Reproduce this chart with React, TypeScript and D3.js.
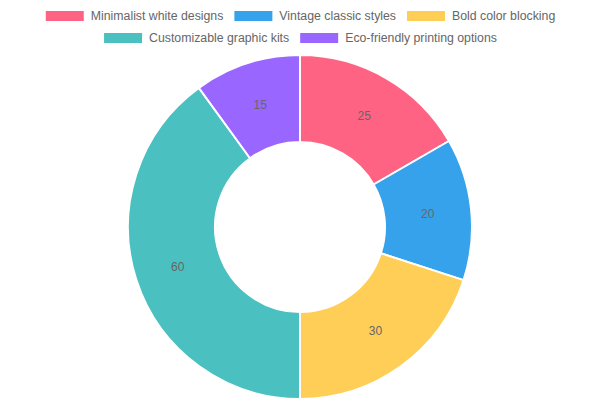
import React, { useEffect, useRef } from 'react';
import * as d3 from 'd3';

const labels = [
  'Minimalist white designs',
  'Vintage classic styles',
  'Bold color blocking',
  'Customizable graphic kits',
  'Eco-friendly printing options',
];
const values = [25, 20, 30, 60, 15];
const colors = ['#FF6384', '#36A2EB', '#FFCE56', '#4BC0C0', '#9966FF'];

const WIDTH = 600;
const HEIGHT = 400;
const FONT = "Arial, 'Liberation Sans', sans-serif";

type Item = { label: string; color: string; width: number; x: number; row: number };

const DoughnutChart: React.FC = () => {
  const svgRef = useRef<SVGSVGElement>(null);

  useEffect(() => {
    const svg = d3.select(svgRef.current);
    svg.selectAll('*').remove();

    // --- Legend ---
    const boxW = 40;
    const boxH = 12;
    const pad = 10;
    const lineH = 22;

    const legend = svg.append('g').attr('font-family', FONT).attr('font-size', 12.3);

    // measure label widths
    const probe = legend.append('text').attr('visibility', 'hidden');
    const items: Item[] = labels.map((label, i) => {
      probe.text(label);
      const tw = (probe.node() as SVGTextElement).getComputedTextLength();
      return { label, color: colors[i], width: boxW + boxH / 2 + tw, x: 0, row: 0 };
    });
    probe.remove();

    // wrap into rows, then center each row
    const rows: Item[][] = [[]];
    let lineW = 0;
    items.forEach(it => {
      const cur = rows[rows.length - 1];
      if (cur.length && lineW + pad + it.width > WIDTH - 2 * pad) {
        rows.push([]);
        lineW = 0;
      }
      const row = rows[rows.length - 1];
      lineW += (row.length ? pad : 0) + it.width;
      row.push(it);
    });
    rows.forEach((row, r) => {
      const total = d3.sum(row, d => d.width) + pad * (row.length - 1);
      let x = (WIDTH - total) / 2;
      row.forEach(it => {
        it.x = x;
        it.row = r;
        x += it.width + pad;
      });
    });

    const li = legend.selectAll('g.item')
      .data(items)
      .join('g')
      .attr('class', 'item')
      .attr('transform', d => `translate(${d.x},${pad + d.row * lineH})`);

    li.append('rect')
      .attr('width', boxW)
      .attr('height', boxH)
      .attr('fill', d => d.color)
      .attr('stroke', '#fff')
      .attr('stroke-width', 2);

    li.append('text')
      .attr('x', boxW + boxH / 2)
      .attr('y', boxH / 2)
      .attr('dominant-baseline', 'central')
      .attr('fill', '#666')
      .text(d => d.label);

    // --- Doughnut ---
    const cx = WIDTH / 2;
    const cy = 227;
    const outer = 172;
    const inner = 85;

    const pie = d3.pie<number>().sort(null).value(d => d);
    const arcs = pie(values);
    const arc = d3.arc<d3.PieArcDatum<number>>().innerRadius(inner).outerRadius(outer);

    const g = svg.append('g').attr('transform', `translate(${cx},${cy})`);

    g.selectAll('path')
      .data(arcs)
      .join('path')
      .attr('d', arc)
      .attr('fill', (_, i) => colors[i])
      .attr('stroke', '#fff')
      .attr('stroke-width', 2)
      .attr('stroke-linejoin', 'round');

    g.selectAll('text')
      .data(arcs)
      .join('text')
      .attr('transform', d => `translate(${arc.centroid(d)})`)
      .attr('text-anchor', 'middle')
      .attr('dominant-baseline', 'central')
      .attr('font-family', FONT)
      .attr('font-size', 12)
      .attr('fill', '#666')
      .text(d => d.data);
  }, []);

  return <svg ref={svgRef} width={WIDTH} height={HEIGHT} style={{ display: 'block' }} />;
};

export default function App() {
  return (
    <div style={{ position: 'fixed', left: 0, top: 0, width: WIDTH, height: HEIGHT, background: '#fff' }}>
      <DoughnutChart />
    </div>
  );
}
